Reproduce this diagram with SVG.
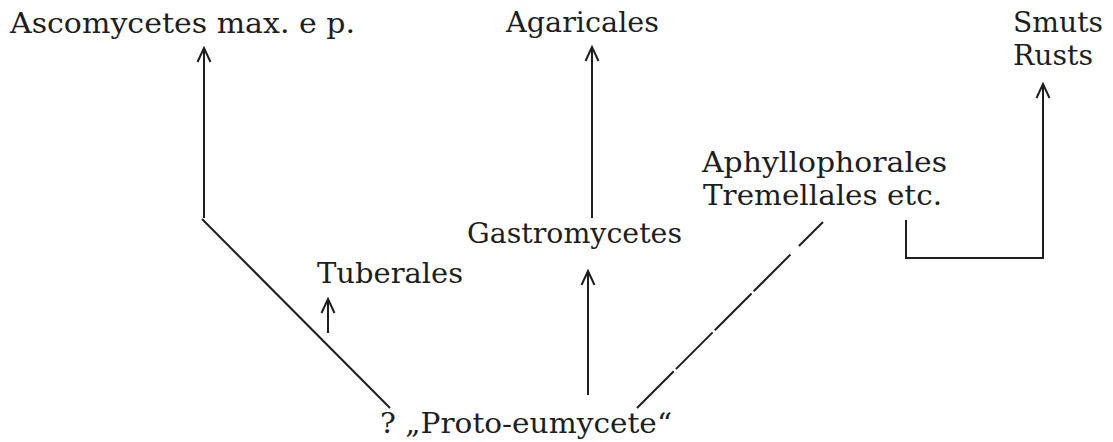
<svg xmlns="http://www.w3.org/2000/svg" width="1113" height="442" viewBox="0 0 1113 442">
<defs>
<style>
.lbl{font-family:"DejaVu Serif","Liberation Serif",serif;font-size:27px;fill:#1e1e1e}
.ln{stroke:#1e1e1e;stroke-width:2;fill:none}
</style>
<marker id="arr" viewBox="-16 -9 18 18" markerWidth="18" markerHeight="18" refX="0" refY="0" orient="auto" markerUnits="userSpaceOnUse">
<path d="M-14,-6.5 L0,0 L-14,6.5" fill="none" stroke="#1e1e1e" stroke-width="2"/>
</marker>
</defs>
<rect width="1113" height="442" fill="#ffffff"/>
<g id="connectors">
<line class="ln" x1="204" y1="218" x2="204" y2="48" marker-end="url(#arr)"/>
<line class="ln" x1="202" y1="219" x2="390" y2="408"/>
<line class="ln" x1="328" y1="333" x2="328" y2="299" marker-end="url(#arr)"/>
<line class="ln" x1="588" y1="395" x2="588" y2="271" marker-end="url(#arr)"/>
<line class="ln" x1="592" y1="218" x2="592" y2="47" marker-end="url(#arr)"/>
<line class="ln" x1="637" y1="408" x2="823" y2="222" stroke-dasharray="52 3 52 3 52 3 52 12 40"/>
<path class="ln" d="M906,220 V258 H1043 V84" marker-end="url(#arr)"/>
</g>
<g id="node-ascomycetes"><text class="lbl" x="10" y="33" textLength="345" lengthAdjust="spacingAndGlyphs">Ascomycetes max. e p.</text></g>
<g id="node-agaricales"><text class="lbl" x="506" y="32" textLength="153" lengthAdjust="spacingAndGlyphs">Agaricales</text></g>
<g id="node-smuts-rusts">
<text class="lbl" x="1013" y="32" textLength="90" lengthAdjust="spacingAndGlyphs">Smuts</text>
<text class="lbl" x="1013" y="65" textLength="80" lengthAdjust="spacingAndGlyphs">Rusts</text>
</g>
<g id="node-aphyllophorales">
<text class="lbl" x="702" y="172" textLength="245" lengthAdjust="spacingAndGlyphs">Aphyllophorales</text>
<text class="lbl" x="703" y="205" textLength="239" lengthAdjust="spacingAndGlyphs">Tremellales etc.</text>
</g>
<g id="node-gastromycetes"><text class="lbl" x="467" y="243" textLength="215" lengthAdjust="spacingAndGlyphs">Gastromycetes</text></g>
<g id="node-tuberales"><text class="lbl" x="317" y="283" textLength="146" lengthAdjust="spacingAndGlyphs">Tuberales</text></g>
<g id="node-proto"><text class="lbl" x="380" y="433" textLength="292" lengthAdjust="spacingAndGlyphs">? „Proto-eumycete“</text></g>
</svg>
